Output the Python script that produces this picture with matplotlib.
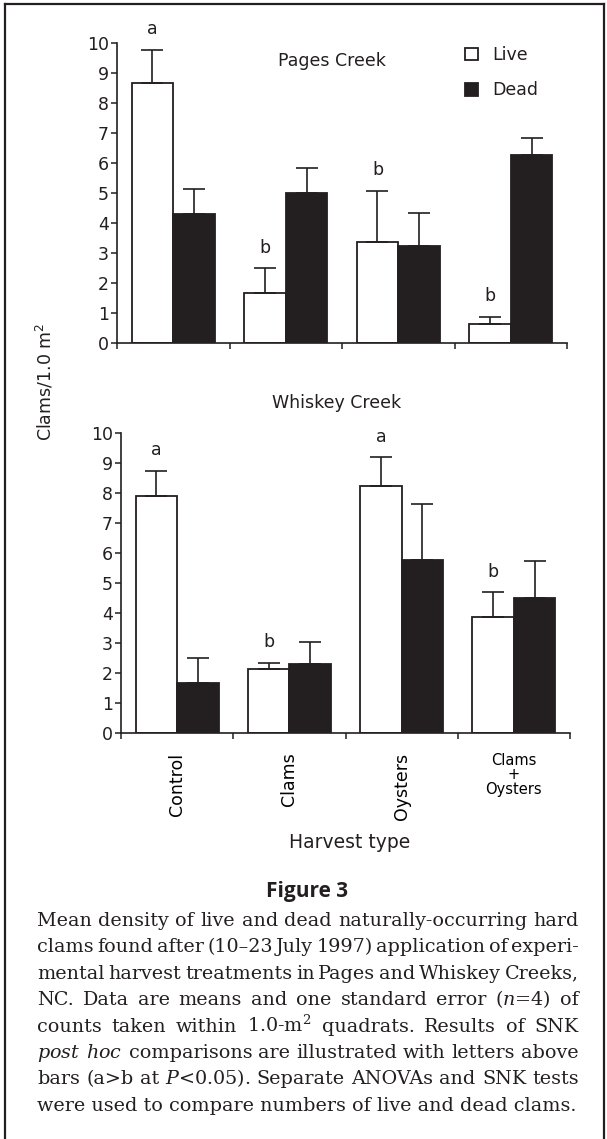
import matplotlib
import numpy as np

matplotlib.use("Agg")
import matplotlib.pyplot as plt
from matplotlib.lines import Line2D

# Values (means and one standard error, upper side only).
CATEGORIES = ["Control", "Clams", "Oysters", "Clams\n+\nOysters"]

PAGES_LIVE = [8.66, 1.66, 3.38, 0.62]
PAGES_LIVE_SE = [1.11, 0.83, 1.70, 0.26]
PAGES_DEAD = [4.29, 5.01, 3.24, 6.27]
PAGES_DEAD_SE = [0.84, 0.81, 1.10, 0.55]
PAGES_LETTERS = ["a", "b", "b", "b"]

WHISKEY_LIVE = [7.90, 2.13, 8.24, 3.87]
WHISKEY_LIVE_SE = [0.84, 0.22, 0.95, 0.82]
WHISKEY_DEAD = [1.66, 2.29, 5.75, 4.51]
WHISKEY_DEAD_SE = [0.83, 0.74, 1.87, 1.23]
WHISKEY_LETTERS = ["a", "b", "a", "b"]

Y_TICKS = list(range(0, 11))

CAPTION_TITLE = "Figure 3"
CAPTION_LINES = [
    "Mean density of live and dead naturally-occurring hard",
    "clams found after (10\u201323 July 1997) application of experi-",
    "mental harvest treatments in Pages and Whiskey Creeks,",
    "NC. Data are means and one standard error ($\\mathit{n}$=4) of",
    "counts taken within 1.0-m$^2$ quadrats. Results of SNK",
    "$\\mathit{post}$ $\\mathit{hoc}$ comparisons are illustrated with letters above",
    "bars (a>b at $\\mathit{P}$<0.05). Separate ANOVAs and SNK tests",
    "were used to compare numbers of live and dead clams.",
]

INK = "#231f20"
W_PX, H_PX = 607, 1139
BAR_W = 0.37

plt.rcParams["font.family"] = ["DejaVu Sans"]
plt.rcParams["text.color"] = INK


def fx(px):
    return px / W_PX


def fy(py):
    return 1 - py / H_PX


def draw_panel(ax, live, live_se, dead, dead_se, letters):
    x = np.arange(len(CATEGORIES))
    ax.bar(x - BAR_W / 2, live, BAR_W, color="white", edgecolor=INK,
           linewidth=1.3, label="Live", zorder=2)
    ax.bar(x + BAR_W / 2, dead, BAR_W, color=INK, edgecolor=INK,
           linewidth=1.3, label="Dead", zorder=2)
    zeros = np.zeros(len(x))
    for xs, ys, se in ((x - BAR_W / 2, live, live_se), (x + BAR_W / 2, dead, dead_se)):
        ax.errorbar(xs, ys, yerr=[zeros, se], fmt="none", ecolor=INK,
                    elinewidth=1.2, capsize=8, capthick=1.2, zorder=3)
    for xi, y, se, letter in zip(x - BAR_W / 2, live, live_se, letters):
        ax.text(xi, y + se + 0.68, letter, ha="center", va="center",
                fontsize=12.5)

    ax.set_xlim(-0.5, len(x) - 0.5)
    ax.set_ylim(0, 10)
    ax.set_yticks(Y_TICKS)
    ax.set_yticklabels([str(t) for t in Y_TICKS], fontsize=12.5)
    ax.set_xticks(np.arange(-0.5, len(x), 1.0))
    ax.set_xticklabels([])
    ax.tick_params(axis="y", direction="out", length=4.5, width=1.1, pad=1.5,
                   colors=INK)
    ax.tick_params(axis="x", which="major", direction="out", length=4,
                   width=1.1, colors=INK)
    for side in ("top", "right"):
        ax.spines[side].set_visible(False)
    for side in ("left", "bottom"):
        ax.spines[side].set_linewidth(1.2)
        ax.spines[side].set_color(INK)


fig = plt.figure(figsize=(W_PX / 100, H_PX / 100), dpi=100)

ax_top = fig.add_axes([fx(117), fy(343), fx(450), 300 / H_PX])
ax_bot = fig.add_axes([fx(121), fy(733.3), fx(449), 300.6 / H_PX])

draw_panel(ax_top, PAGES_LIVE, PAGES_LIVE_SE, PAGES_DEAD, PAGES_DEAD_SE,
           PAGES_LETTERS)
draw_panel(ax_bot, WHISKEY_LIVE, WHISKEY_LIVE_SE, WHISKEY_DEAD,
           WHISKEY_DEAD_SE, WHISKEY_LETTERS)

ax_top.text(0.478, 0.94, "Pages Creek", transform=ax_top.transAxes,
            ha="center", va="center", fontsize=12.5)
ax_bot.text(0.481, 1.099, "Whiskey Creek", transform=ax_bot.transAxes,
            ha="center", va="center", fontsize=12.5)

ax_top.legend(loc="upper left", bbox_to_anchor=(fx(465), fy(46)),
              bbox_transform=fig.transFigure, frameon=False, fontsize=12.5,
              handlelength=0.75, handleheight=0.75, handletextpad=0.8,
              labelspacing=1.0, borderpad=0, borderaxespad=0)

# category labels under the lower panel
ax_bot.set_xticks(np.arange(len(CATEGORIES)), minor=True)
ax_bot.set_xticklabels(CATEGORIES, minor=True)
ax_bot.tick_params(axis="x", which="minor", length=0, pad=14)
for i, lab in enumerate(ax_bot.get_xticklabels(minor=True)):
    if "\n" in CATEGORIES[i]:
        lab.set_rotation(0)
        lab.set_fontsize(10.5)
        lab.set_linespacing(0.95)
        lab.set_multialignment("center")
    else:
        lab.set_rotation(90)
        lab.set_fontsize(12.5)
    lab.set_va("top")
    lab.set_ha("center")

fig.text(fx(45), fy(382), "Clams/1.0 m$^2$", rotation=90, ha="center",
         va="center", fontsize=12.5)
fig.text(fx(350), fy(842), "Harvest type", ha="center", va="center",
         fontsize=13.5)

fig.text(fx(307), fy(892), CAPTION_TITLE, ha="center", va="center",
         fontsize=15, fontweight="bold", family=["Open Sans", "DejaVu Sans"])

# justified caption, word by word
renderer = fig.canvas.get_renderer()
left, right = 37.0, 579.0
base0, step = 926.0, 26.4
cap_kw = dict(fontsize=13.8, family="DejaVu Serif", math_fontfamily="dejavuserif",
              va="baseline", ha="left")
for n, line in enumerate(CAPTION_LINES):
    yb = fy(base0 + n * step)
    if n == len(CAPTION_LINES) - 1:
        fig.text(fx(left), yb, line, **cap_kw)
        continue
    words = line.split()
    texts = [fig.text(0, yb, w, **cap_kw) for w in words]
    widths = [t.get_window_extent(renderer).width for t in texts]
    gap = (right - left - sum(widths)) / (len(words) - 1)
    xpos = left
    for t, wd in zip(texts, widths):
        t.set_x(fx(xpos))
        xpos += wd + gap

# page frame (bottom edge lies outside the crop)
frame_kw = dict(color=INK, linewidth=1.6, transform=fig.transFigure)
fig.add_artist(Line2D([fx(5), fx(5)], [fy(4), 0], **frame_kw))
fig.add_artist(Line2D([fx(5), fx(604)], [fy(4), fy(4)], **frame_kw))
fig.add_artist(Line2D([fx(604), fx(604)], [fy(4), 0], **frame_kw))

fig.savefig("out.png", dpi=100)
